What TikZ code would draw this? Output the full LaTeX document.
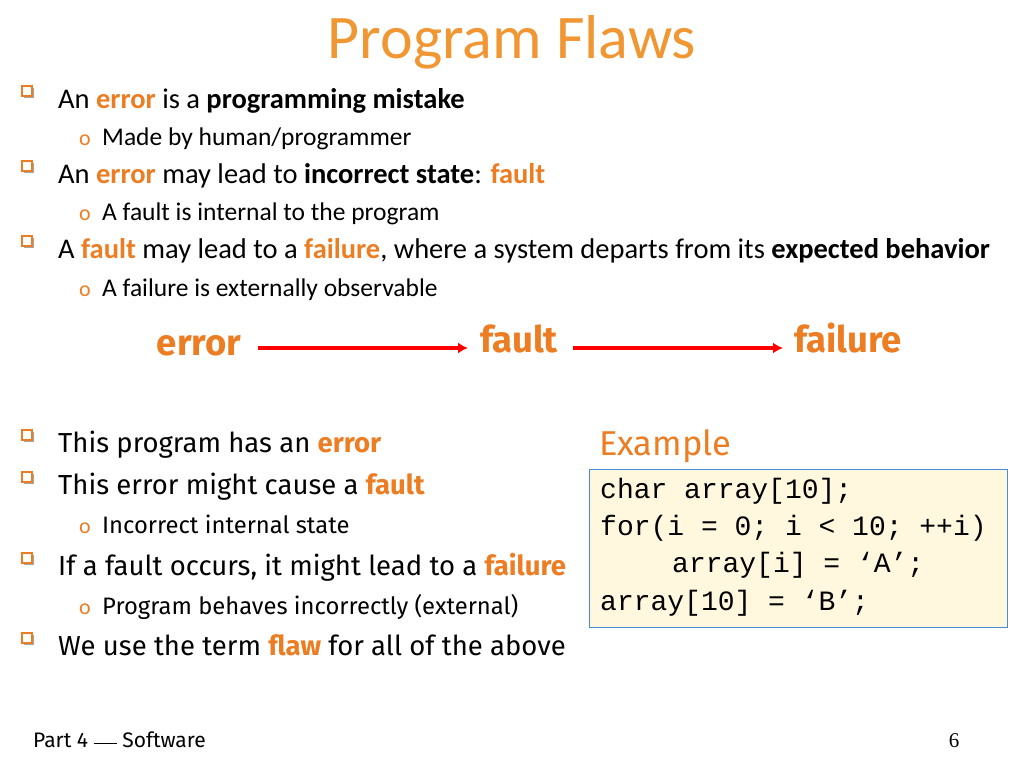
\documentclass[tikz,border=0pt]{standalone}
\usepackage{fontspec}
\setmainfont{Carlito}
\newfontfamily\comic{Fira Sans}
\newfontfamily\code{Liberation Mono}
\newfontfamily\timesf{Liberation Serif}
\definecolor{titleor}{RGB}{240,150,50}
\definecolor{keyor}{RGB}{236,125,35}
\definecolor{boxfill}{RGB}{255,248,222}
\definecolor{boxline}{RGB}{70,140,210}
\tikzset{
  txt/.style={anchor=base west, inner sep=0pt, font=\fontsize{28.5}{32}\selectfont},
  ctxt/.style={anchor=base west, inner sep=0pt, font=\comic\fontsize{27.5}{32}\selectfont},
  sub/.style={anchor=base west, inner sep=0pt, font=\fontsize{25.5}{30}\selectfont},
  csub/.style={anchor=base west, inner sep=0pt, font=\comic\fontsize{23.8}{28}\selectfont},
  codeln/.style={anchor=base west, inner sep=0pt, font=\code\fontsize{28}{32}\selectfont},
  flow/.style={anchor=base, inner sep=0pt, text=keyor, font=\comic\bfseries\fontsize{36.5}{40}\selectfont},
  redarrow/.style={red, line width=3.5pt, -{Latex[length=10pt,width=11pt]}},
}
\newcommand{\kw}[1]{\textcolor{keyor}{\textbf{#1}}}
\newcommand{\sqbullet}[2]{%
  \fill[black!35] (#1+1.5,#2-10.5) rectangle ++(10,-10);
  \draw[keyor, line width=1.6pt, fill=white] (#1,#2-12) rectangle ++(10,-10);}
\newcommand{\obullet}[2]{\node[anchor=base, inner sep=0pt, text=keyor, font=\fontsize{22}{24}\selectfont] at (#1,#2) {o};}
\usetikzlibrary{arrows.meta}
\begin{document}
\begin{tikzpicture}[x=1pt, y=-1pt]
  \useasboundingbox (0,0) rectangle (1024,768);

  % title
  \node[inner sep=0pt, text=titleor, font=\fontsize{62}{66}\selectfont] (title) at (512,42) {Program Flaws};

  % upper bullets
  \foreach \y in {108,183,258} {\sqbullet{22}{\y}}
  \foreach \y in {145,220,296} {\obullet{85}{\y}}
  \node[txt] (b1) at (58,108) {An \kw{error} is a \textbf{programming mistake}};
  \node[sub] (s1) at (102,145) {Made by human/programmer};
  \node[txt] (b2) at (58,183) {An \kw{error} may lead to \textbf{incorrect state}: \kw{fault}};
  \node[sub] (s2) at (102,220) {A fault is internal to the program};
  \node[txt] (b3) at (58,258) {A \kw{fault} may lead to a \kw{failure}, where a system departs from its \textbf{expected behavior}};
  \node[sub] (s3) at (102,296) {A failure is externally observable};

  % error -> fault -> failure
  \node[flow] (error) at (199,355) {error};
  \node[flow] (fault) at (519,352) {fault};
  \node[flow] (failure) at (848,352) {failure};
  \coordinate (a1) at (258,348);
  \coordinate (a2) at (468,348);
  \coordinate (a3) at (573,348);
  \coordinate (a4) at (783,348);
  \draw[redarrow] (a1) -- (a2);
  \draw[redarrow] (a3) -- (a4);

  % lower bullets
  \foreach \y in {452,494,575,655} {\sqbullet{22}{\y}}
  \foreach \y in {533,614} {\obullet{85}{\y}}
  \node[ctxt] (c1) at (58,452) {This program has an \kw{error}};
  \node[ctxt] (c2) at (58,494) {This error might cause a \kw{fault}};
  \node[csub] (c3) at (102,533) {Incorrect internal state};
  \node[ctxt] (c4) at (58,575) {If a fault occurs, it might lead to a \kw{failure}};
  \node[csub] (c5) at (102,614) {Program behaves incorrectly (external)};
  \node[ctxt] (c6) at (58,655) {We use the term \kw{flaw} for all of the above};

  % example
  \node[anchor=base west, inner sep=0pt, text=keyor, font=\comic\fontsize{34.5}{38}\selectfont] (ex) at (599,455) {Example};
  \draw[boxline, fill=boxfill, line width=0.8pt] (589,469) rectangle (1007,627);
  \node[codeln] (l1) at (600,498) {char array[10];};
  \node[codeln] (l2) at (600,535) {for(i = 0; i < 10; ++i)};
  \node[codeln] (l3) at (672,572) {array[i] = ‘A’;};
  \node[codeln] (l4) at (600,610) {array[10] = ‘B’;};

  % footer
  \node[anchor=base west, inner sep=0pt, font=\comic\fontsize{21}{24}\selectfont] (foot) at (33,747) {Part 4 \rule[0.3ex]{1.1em}{0.4pt} Software};
  \node[anchor=base, inner sep=0pt, font=\timesf\fontsize{21}{24}\selectfont] (pg) at (954,747) {6};
\end{tikzpicture}
\end{document}
